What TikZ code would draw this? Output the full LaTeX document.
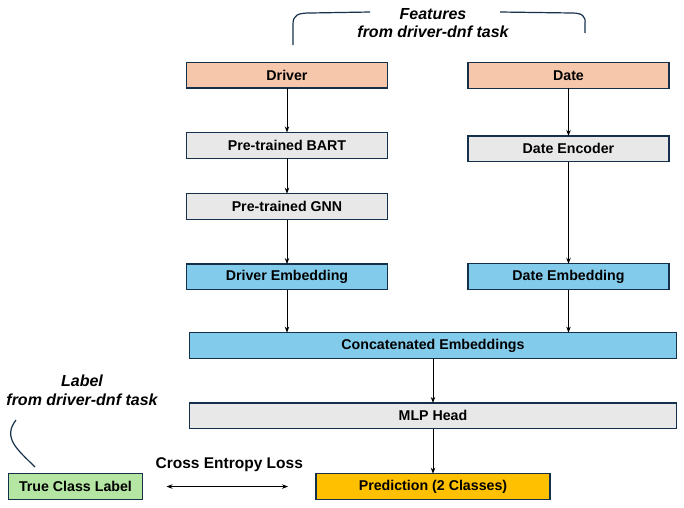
\documentclass[tikz,border=0pt]{standalone}
\usepackage{fontspec}
\setmainfont{Liberation Sans}
\usepackage{tikz}
\usetikzlibrary{arrows.meta, positioning}

\definecolor{inputorange}{HTML}{F7C7AC}
\definecolor{modelgrey}{HTML}{E8E8E8}
\definecolor{embedblue}{HTML}{83CBEB}
\definecolor{labelgreen}{HTML}{B4E5A2}
\definecolor{predgold}{HTML}{FFC000}
\definecolor{boxborder}{HTML}{15304A}

\begin{document}
\begin{tikzpicture}[
        x=1pt, y=-1pt,
        % Define a uniform style for all blocks
        block/.style={
            rectangle,
            draw=boxborder,
            line width=1.2pt,
            minimum width=201pt,
            minimum height=25.8pt,
            inner sep=2pt,
            outer sep=0pt,
            align=center,
            font=\fontsize{14.2}{16}\selectfont\bfseries
        },
        arrow/.style={
            -{Stealth[length=6pt, width=4.5pt]},
            line width=0.8pt
        },
        note/.style={
            align=center,
            font=\fontsize{16}{18.5}\selectfont\bfseries\itshape
        },
        bracket/.style={
            draw=boxborder,
            line width=1.2pt
        }
    ]
    \useasboundingbox (0,0) rectangle (684,507);

    % Driver branch
    \node (driver) [block, fill=inputorange] at (287,75) {Driver};
    \node (bart) [block, fill=modelgrey, below=44.5pt of driver] {Pre-trained BART};
    \node (gnn) [block, fill=modelgrey, below=35.5pt of bart] {Pre-trained GNN};
    \node (drvemb) [block, fill=embedblue, below=44.5pt of gnn] {Driver Embedding};

    % Date branch
    \node (date) [block, fill=inputorange] at (568.5,75.5) {Date};
    \node (dateenc) [block, fill=modelgrey, below=47.5pt of date] {Date Encoder};
    \node (dateemb) [block, fill=embedblue, below=102pt of dateenc] {Date Embedding};

    % Merge and head
    \node (concat) [block, fill=embedblue, minimum width=487pt] at (433,345.5) {Concatenated Embeddings};
    \node (mlp) [block, fill=modelgrey, minimum width=487pt, below=44.5pt of concat] {MLP Head};
    \node (pred) [block, fill=predgold, minimum width=234pt, below=45pt of mlp] {Prediction (2 Classes)};
    \node (truelabel) [block, fill=labelgreen, minimum width=134pt] at (75.5,486.5) {True Class Label};

    % Annotations
    \node (featnote) [note] at (433,23) {Features\\from driver-dnf task};
    \node (labelnote) [note] at (82,390.5) {Label\\from driver-dnf task};
    \draw [bracket] (293,45) -- (293,24) .. controls (293,15) and (298,13) .. (310,13) -- (370,12);
    \draw [bracket] (500,12) -- (572,13) .. controls (582,13) and (586,16) .. (585,24) -- (585,33);
    \draw [bracket] (35,467) .. controls (18,450) and (2,438) .. (16,420);

    % Draw the connecting arrows
    \draw [arrow] (driver) -- (bart);
    \draw [arrow] (bart) -- (gnn);
    \draw [arrow] (gnn) -- (drvemb);
    \draw [arrow] (date) -- (dateenc);
    \draw [arrow] (dateenc) -- (dateemb);
    \draw [arrow] (drvemb) -- (drvemb |- concat.north);
    \draw [arrow] (dateemb) -- (dateemb |- concat.north);
    \draw [arrow] (concat.south -| mlp.north) -- (mlp);
    \draw [arrow] (mlp) -- (pred);
    \draw [{Stealth[length=6pt, width=4.5pt]}-{Stealth[length=6pt, width=4.5pt]}, line width=0.8pt,
           shorten <=24pt, shorten >=28pt] (truelabel) -- (pred)
        node (loss) [midway, above=11pt, font=\fontsize{15.5}{18}\selectfont\bfseries] {Cross Entropy Loss};

\end{tikzpicture}
\end{document}
